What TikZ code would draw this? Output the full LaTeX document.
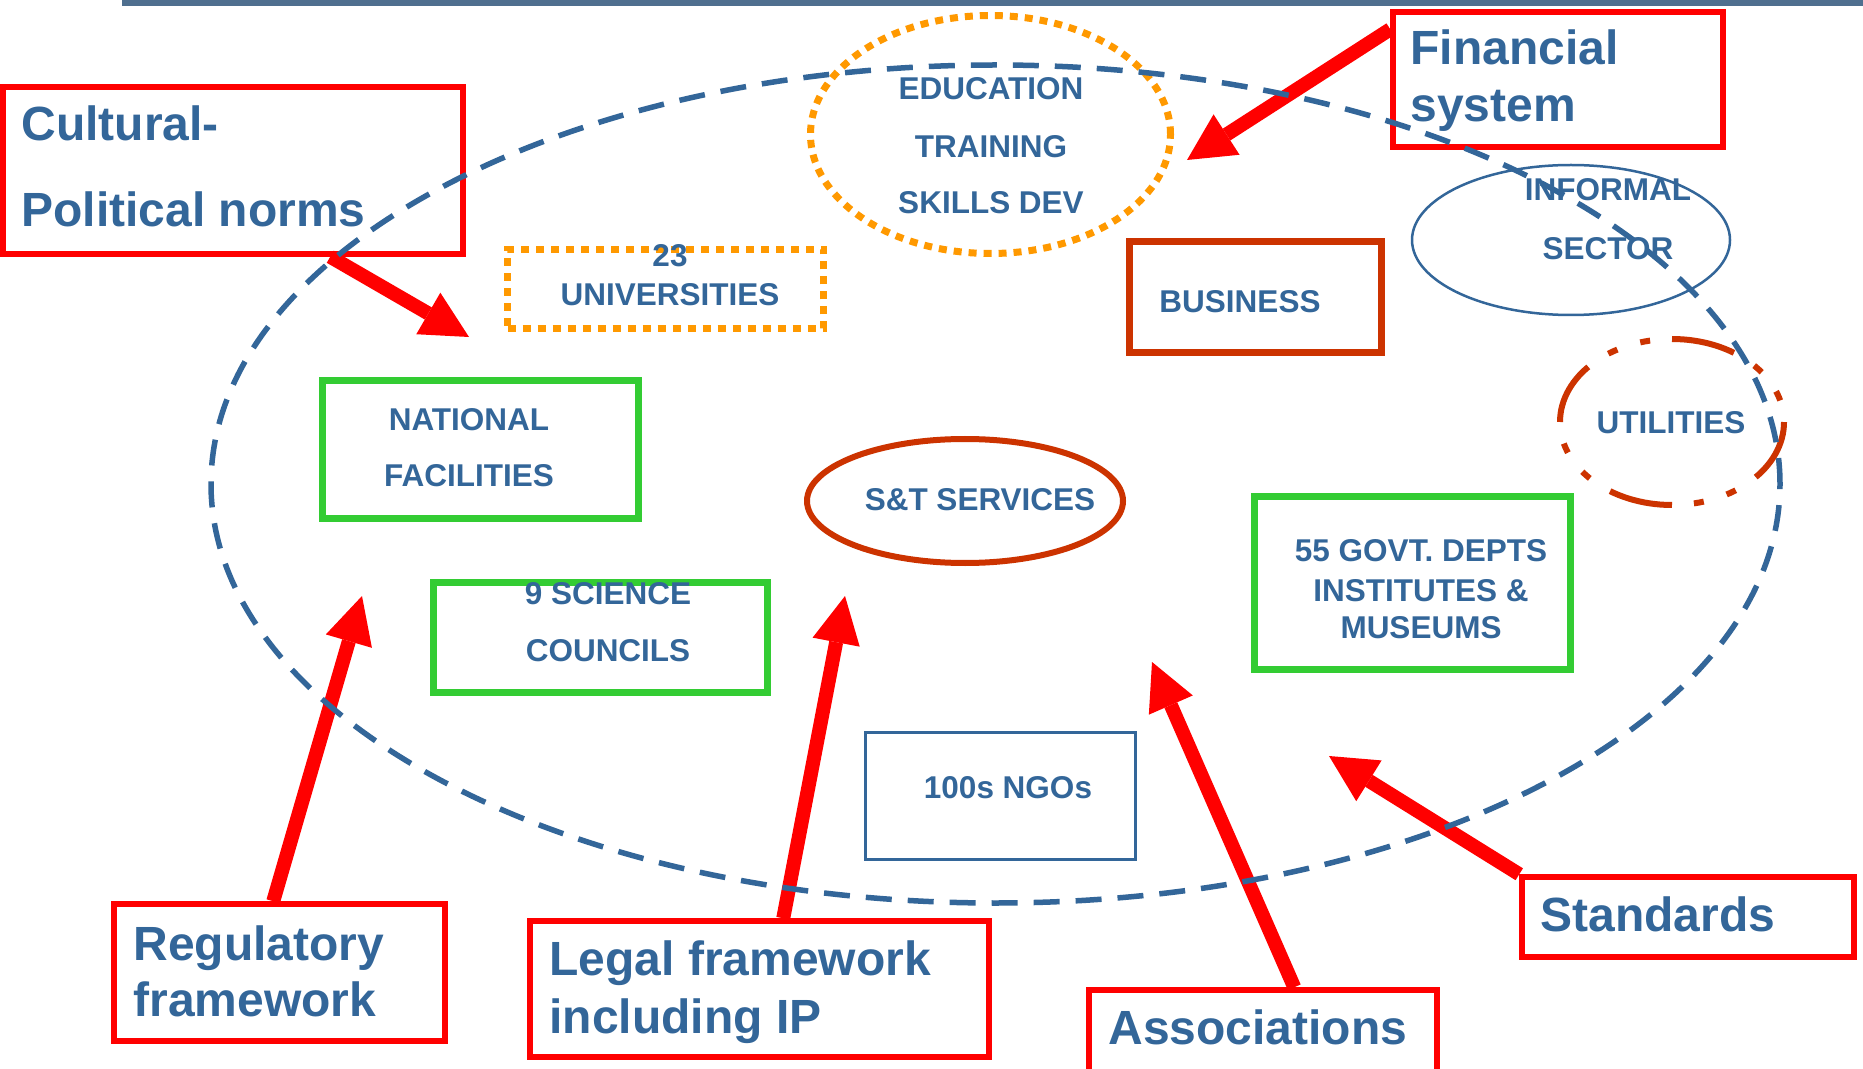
\documentclass[tikz,border=0pt]{standalone}
\usepackage{fontspec}
\setmainfont{Liberation Sans}
\usetikzlibrary{arrows.meta,shapes.geometric}
\definecolor{tblue}{HTML}{336699}
\definecolor{cred}{HTML}{FF0000}
\definecolor{cgreen}{HTML}{33CC33}
\definecolor{corange}{HTML}{FF9900}
\definecolor{crust}{HTML}{CC3300}
\definecolor{ctop}{HTML}{4F6F8F}
\tikzset{
  redbox/.style={draw=cred, line width=2.75pt, rectangle, inner sep=0pt},
  greenbox/.style={draw=cgreen, line width=3.5pt, rectangle, inner sep=0pt},
  rustbox/.style={draw=crust, line width=3.5pt, rectangle, inner sep=0pt},
  orangedot/.style={draw=corange, line width=3.5pt, dash pattern=on 4pt off 3.5pt, inner sep=0pt},
  thinblue/.style={draw=tblue, line width=1.25pt, inner sep=0pt},
  ell/.style={ellipse, inner sep=0pt},
  big/.style={text=tblue, font=\bfseries\fontsize{24}{28}\selectfont, inner sep=0pt, anchor=base west},
  sm/.style={text=tblue, font=\bfseries\fontsize{15.75}{18}\selectfont, inner sep=0pt, anchor=base},
  redarrow/.style={draw=cred, line width=7pt, -{Triangle[length=23.5pt,width=24pt,line width=0pt]}}
}
\begin{document}
\begin{tikzpicture}[x=0.5pt,y=-0.5pt]
\useasboundingbox (0,0) rectangle (1863,1069);
\clip (0,0) rectangle (1863,1069);
\fill[white] (0,0) rectangle (1863,1069);

\draw[line width=3pt, ctop] (122,3) -- (1863,3);

% outer red boxes
\node[redbox, minimum width=230pt, minimum height=83.5pt] (cult) at (233,170.5) {};
\node[redbox, minimum width=165pt, minimum height=67.5pt] (fin) at (1558,79.5) {};
\node[redbox, minimum width=165.5pt, minimum height=68.5pt] (reg) at (279.5,972.5) {};
\node[redbox, minimum width=229.5pt, minimum height=68pt] (legal) at (759.5,989) {};
\node[redbox, minimum width=174pt, minimum height=50pt] (assoc) at (1263,1040) {};
\node[redbox, minimum width=166pt, minimum height=40pt] (std) at (1688,917) {};

\node[big] (cultT1) at (21,141) {Cultural-};
\node[big] (cultT2) at (21,227) {Political norms};
\node[big] (finT1) at (1410,65) {Financial};
\node[big] (finT2) at (1410,122) {system};
\node[big] (regT1) at (133,960) {Regulatory};
\node[big] (regT2) at (133,1016) {framework};
\node[big] (legalT1) at (549,975) {Legal framework};
\node[big] (legalT2) at (549,1033) {including IP};
\node[big] (assocT) at (1108,1044) {Associations};
\node[big] (stdT) at (1540,931) {Standards};

% inner shapes
\node[ell, orangedot, minimum width=180pt, minimum height=119pt] (edu) at (990.5,134.5) {};
\node[orangedot, rectangle, minimum width=158pt, minimum height=39.5pt] (univ) at (665.5,289) {};
\node[greenbox, minimum width=158pt, minimum height=69pt] (natl) at (480.5,449.5) {};
\node[greenbox, minimum width=167pt, minimum height=55pt] (sci) at (600.5,637.5) {};
\node[greenbox, minimum width=158pt, minimum height=86.5pt] (govt) at (1412.5,583) {};
\node[rustbox, minimum width=126pt, minimum height=55.5pt] (bus) at (1255.5,297) {};
\node[thinblue, rectangle, minimum width=135pt, minimum height=63.5pt] (ngo) at (1000.5,796) {};
\node[ell, draw=crust, line width=3pt, minimum width=158pt, minimum height=62pt] (st) at (965,501) {};
\node[ell, thinblue, minimum width=159pt, minimum height=75pt] (inf) at (1571,240) {};
\node[ell, draw=crust, line width=3pt, minimum width=112pt, minimum height=83pt,
      dash pattern=on 32pt off 11pt on 5pt off 12pt on 5pt off 12pt, dash phase=32pt] (util) at (1672,422) {};

% inner texts
\node[sm] (eduT1) at (991,100) {EDUCATION};
\node[sm] (eduT2) at (991,158) {TRAINING};
\node[sm] (eduT3) at (991,214) {SKILLS DEV};
\node[sm] (univT1) at (670,267) {23};
\node[sm] (univT2) at (670,306) {UNIVERSITIES};
\node[sm] (natlT1) at (469,430) {NATIONAL};
\node[sm] (natlT2) at (469,487) {FACILITIES};
\node[sm] (stT) at (980,510) {S\&T SERVICES};
\node[sm] (sciT1) at (608,604) {9 SCIENCE};
\node[sm] (sciT2) at (608,661) {COUNCILS};
\node[sm] (ngoT) at (1008,798) {100s NGOs};
\node[sm] (govtT1) at (1421,561) {55 GOVT. DEPTS};
\node[sm] (govtT2) at (1421,601) {INSTITUTES \&};
\node[sm] (govtT3) at (1421,638) {MUSEUMS};
\node[sm] (busT) at (1240,313) {BUSINESS};
\node[sm] (infT1) at (1608,201) {INFORMAL};
\node[sm] (infT2) at (1608,260) {SECTOR};
\node[sm] (utilT) at (1671,434) {UTILITIES};

% arrow tips
\coordinate (finTip) at (1187,160);
\coordinate (cultTip) at (469,337);
\coordinate (regTip) at (362,596);
\coordinate (legalTip) at (845,596);
\coordinate (assocTip) at (1152,662);
\coordinate (stdTip) at (1329,756);

\draw[redarrow] ([yshift=-10pt]fin.north west) -- (finTip);
\draw[redarrow] ([xshift=165pt]cult.south west) -- (cultTip);
\draw[redarrow] ([xshift=81pt]reg.north west) -- (regTip);
\draw[redarrow] ([xshift=128pt]legal.north west) -- (legalTip);
\draw[redarrow] ([xshift=104pt]assoc.north west) -- (assocTip);
\draw[redarrow] (std.north west) -- (stdTip);

% big dashed ellipse
\node[ell, draw=tblue, line width=2.75pt, dash pattern=on 13pt off 8pt,
      minimum width=784.5pt, minimum height=419pt] (sys) at (995.5,484) {};
\end{tikzpicture}
\end{document}
